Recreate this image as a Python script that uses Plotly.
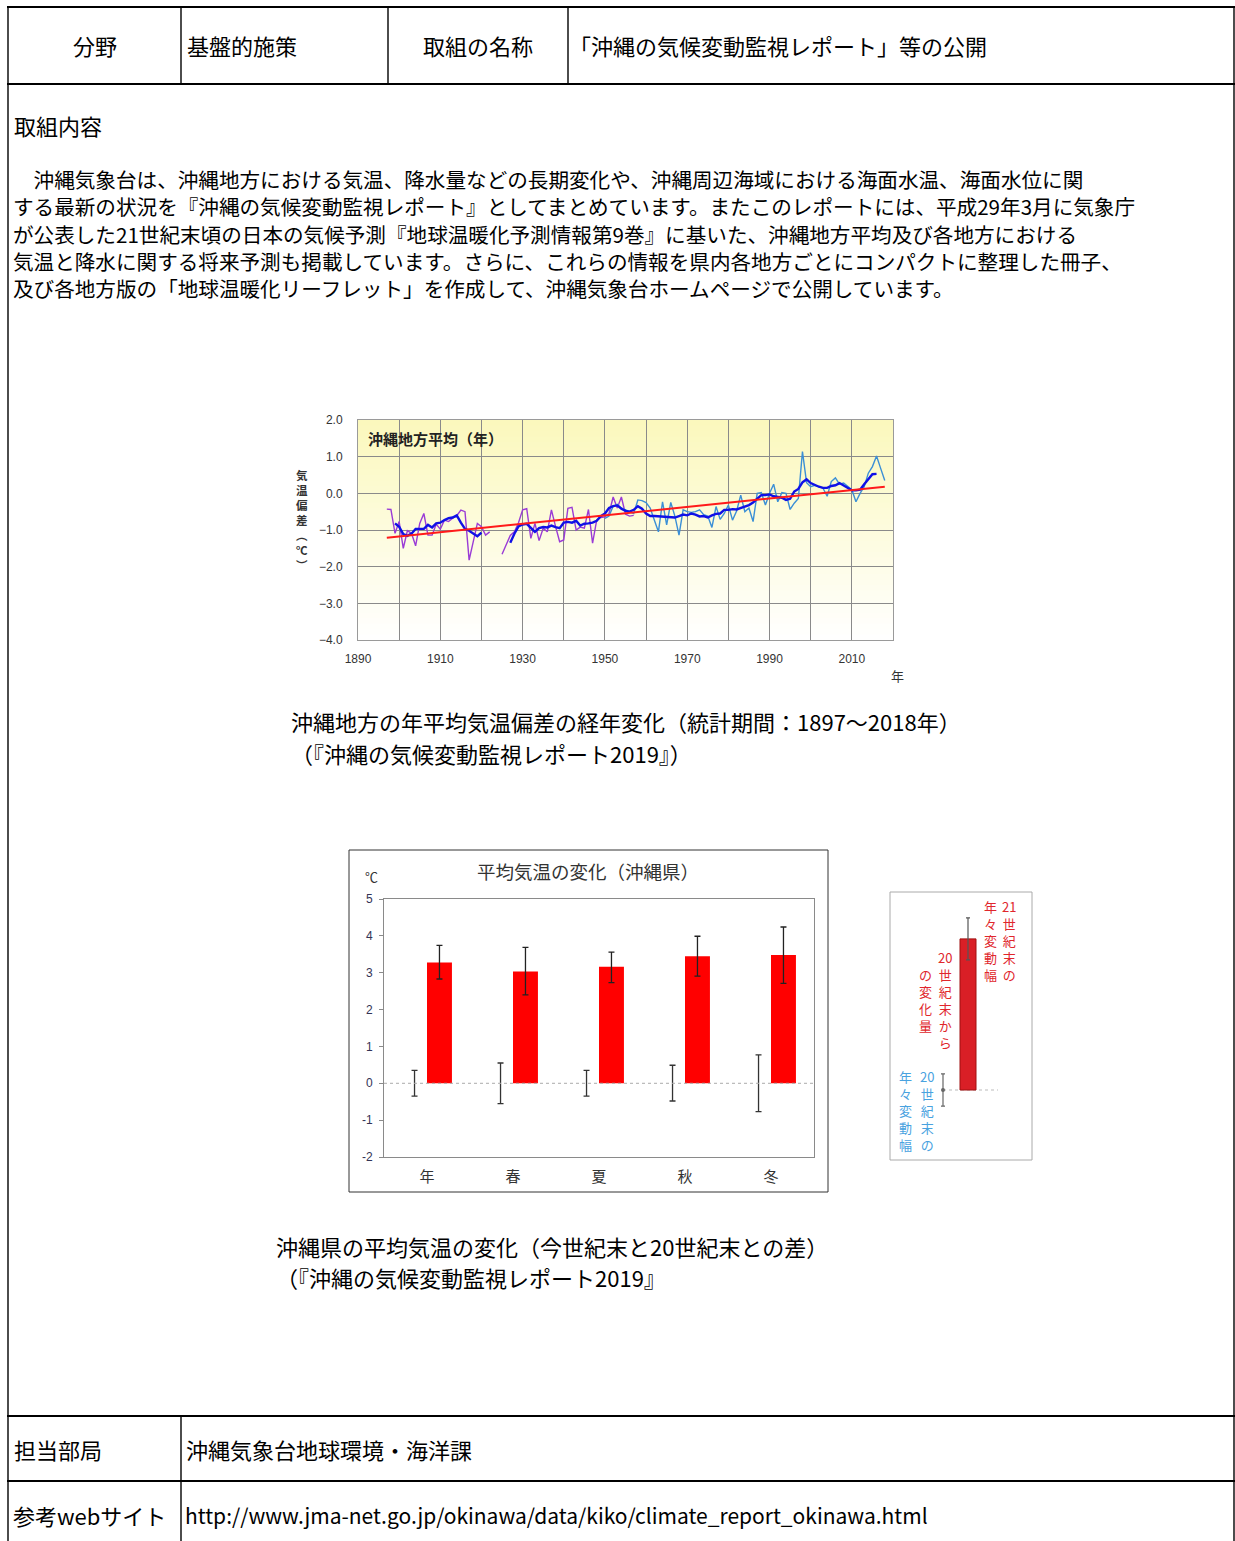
import plotly.graph_objects as go

W, H = 1235, 1541
JP = "Noto Sans CJK JP"
LAT = "Liberation Sans, Arial, sans-serif"

# ---------------- data: chart 1 (annual temperature anomaly, Okinawa) ----------------
years_a = list(range(1897, 1958))
purple_vals = [
    -0.43, -0.44, -1.09, -0.77, -1.50, -1.02, -1.09, -1.43, -0.82, -0.55,   # 1897-1906
    -1.14, -1.14, -0.84, -0.98, -0.73, -0.77, -0.68, -0.61, -0.46, -0.50,   # 1907-1916
    -1.82, -1.27, -0.82, -0.91, -1.14, -1.05, None, None, -1.66, -1.40,     # 1917-1926
    -1.15, -1.05, -0.80, -0.45, -0.42, -1.23, -0.82, -1.29, -0.95, -1.05,   # 1927-1936
    -0.45, -0.90, -1.32, -1.27, -0.41, -0.38, -1.00, -0.92, -0.95, -0.44,   # 1937-1946
    -1.36, -0.73, -0.66, -0.64, -0.55, -0.10, -0.40, -0.10, -0.57, -0.62,   # 1947-1956
    -0.60,                                                                   # 1957
]
years_b = list(range(1950, 2019))
lightblue_vals = [
    -0.68, -0.62, -0.35, -0.30, -0.40, -0.45, -0.52, -0.55, -0.18, -0.20,   # 1950-1959
    -0.25, -0.40, -0.73, -1.05, -0.23, -0.86, -0.25, -0.62, -1.14, -0.45,   # 1960-1969
    -0.50, -0.52, -0.50, -0.45, -0.58, -0.62, -0.93, -0.36, -0.71, -0.55,   # 1970-1979
    -0.32, -0.73, -0.48, -0.05, -0.50, -0.40, -0.77, 0.00, 0.02, -0.32,     # 1980-1989
    0.00, 0.25, -0.23, 0.02, 0.00, -0.44, -0.27, -0.14, 1.14, 0.29,         # 1990-1999
    0.18, 0.22, 0.18, 0.14, -0.08, 0.32, 0.42, 0.25, 0.28, 0.20,            # 2000-2009
    0.10, -0.23, 0.00, 0.18, 0.55, 0.73, 1.02, 0.68, 0.35,                  # 2010-2018
]
years_m = list(range(1899, 2017))
running_mean = [
    -0.82, -0.91, -1.11, -1.16, -1.10, -0.97, -0.97, -0.97, -0.86, -0.93,   # 1899-1908
    -0.82, -0.80, -0.73, -0.68, -0.66, -0.60, -0.80, -0.97, -1.02, -1.10,   # 1909-1918
    -1.17, -1.07, None, None, None, None, None, None, -1.35, -1.10,         # 1919-1928
    -0.90, -0.85, -0.83, -0.95, -1.05, -0.95, -0.92, -0.93, -0.88, -0.92,   # 1929-1938
    -0.95, -0.80, -0.78, -0.80, -0.75, -0.88, -0.83, -0.82, -0.80, -0.75,   # 1939-1948
    -0.62, -0.55, -0.40, -0.35, -0.33, -0.42, -0.48, -0.50, -0.45, -0.35,   # 1949-1958
    -0.42, -0.55, -0.62, -0.62, -0.63, -0.62, -0.65, -0.65, -0.66, -0.62,   # 1959-1968
    -0.58, -0.60, -0.55, -0.58, -0.63, -0.62, -0.66, -0.60, -0.56, -0.55,   # 1969-1978
    -0.45, -0.45, -0.43, -0.44, -0.40, -0.38, -0.32, -0.25, -0.15, -0.05,   # 1979-1988
    -0.05, -0.03, -0.08, -0.10, -0.12, -0.18, -0.15, 0.05, 0.12, 0.30,      # 1989-1998
    0.38, 0.28, 0.22, 0.18, 0.15, 0.15, 0.20, 0.22, 0.28, 0.22,             # 1999-2008
    0.14, 0.08, 0.08, 0.10, 0.25, 0.40, 0.52, 0.53,                         # 2009-2016
]
trend_years = [1897, 2018]
trend_vals = [-1.21, 0.18]
year_ticks = [1890, 1900, 1910, 1920, 1930, 1940, 1950, 1960, 1970, 1980, 1990, 2000, 2010]
year_ticklabels = ["1890", "", "1910", "", "1930", "", "1950", "", "1970", "", "1990", "", "2010"]

# ---------------- data: chart 2 (projected change, Okinawa Pref.) ----------------
seasons = ["年", "春", "夏", "秋", "冬"]
change_21c = [3.28, 3.03, 3.16, 3.45, 3.48]
err21_plus = [0.46, 0.66, 0.40, 0.54, 0.76]
err21_minus = [0.45, 0.63, 0.43, 0.54, 0.77]
base_20c = [0, 0, 0, 0, 0]
err20_plus = [0.35, 0.55, 0.35, 0.49, 0.77]
err20_minus = [0.35, 0.55, 0.35, 0.48, 0.77]
c2_ticks = [-2, -1, 0, 1, 2, 3, 4, 5]
c2_ticklabels = ["-2", "-1", "0", "1", "2", "3", "4", "5"]

# legend illustration values
key_bar = [4.03]
key_bar_err = [0.56]
key_base_err = [0.43]


def X(px):
    return px / W


def Y(py):
    return 1 - py / H


fig = go.Figure()

# chart 1 traces
fig.add_trace(go.Scatter(x=years_a, y=purple_vals, mode="lines", line=dict(color="#9a3bd6", width=1.4),
                         connectgaps=False, xaxis="x", yaxis="y", hoverinfo="skip"))
fig.add_trace(go.Scatter(x=years_b, y=lightblue_vals, mode="lines", line=dict(color="#3b8fd6", width=1.4),
                         xaxis="x", yaxis="y", hoverinfo="skip"))
fig.add_trace(go.Scatter(x=years_m, y=running_mean, mode="lines", line=dict(color="#1010e6", width=2.4),
                         connectgaps=False, xaxis="x", yaxis="y", hoverinfo="skip"))
fig.add_trace(go.Scatter(x=trend_years, y=trend_vals, mode="lines", line=dict(color="#ff1a1a", width=2),
                         xaxis="x", yaxis="y", hoverinfo="skip"))

# chart 2 traces
fig.add_trace(go.Bar(x=seasons, y=base_20c, marker=dict(color="rgba(0,0,0,0)", line=dict(width=0)),
                     error_y=dict(type="data", array=err20_plus, arrayminus=err20_minus, color="#333333",
                                  thickness=1.3, width=3),
                     offsetgroup="a", xaxis="x2", yaxis="y2", hoverinfo="skip"))
fig.add_trace(go.Bar(x=seasons, y=change_21c, marker=dict(color="#ff0000", line=dict(width=0)),
                     error_y=dict(type="data", array=err21_plus, arrayminus=err21_minus, color="#222222",
                                  thickness=1.3, width=3),
                     offsetgroup="b", xaxis="x2", yaxis="y2", hoverinfo="skip"))

# legend illustration (chart 3)
fig.add_trace(go.Bar(x=[1], y=key_bar, width=0.64, marker=dict(color="#d91f26", line=dict(color="#a01010", width=1)),
                     error_y=dict(type="data", array=key_bar_err, color="#555555", thickness=1.2, width=2),
                     xaxis="x3", yaxis="y3", hoverinfo="skip"))
fig.add_trace(go.Scatter(x=[0], y=[0], mode="markers", marker=dict(size=4, color="#666666"),
                         error_y=dict(type="data", array=key_base_err, color="#666666", thickness=1.2, width=2),
                         xaxis="x3", yaxis="y3", hoverinfo="skip"))

shapes = []

# gradient background of chart 1
NB = 40
for i in range(NB):
    t = (i + 0.5) / NB
    r = round(255 - (255 - 251) * t)
    g = round(255 - (255 - 248) * t)
    b = round(255 - (255 - 188) * t)
    shapes.append(dict(type="rect", xref="x domain", yref="y domain", x0=0, x1=1,
                       y0=i / NB, y1=(i + 1) / NB + 0.002, line=dict(width=0),
                       fillcolor=f"rgb({r},{g},{b})", layer="below"))

# zero reference line in chart 2
shapes.append(dict(type="line", xref="x2 domain", yref="y2", x0=0, x1=1, y0=0, y1=0,
                   line=dict(color="#aaaaaa", width=1, dash="dot"), layer="above"))
# baseline in legend illustration
shapes.append(dict(type="line", xref="x3", yref="y3", x0=0, x1=2.2, y0=0, y1=0,
                   line=dict(color="#bbbbbb", width=1, dash="dot"), layer="below"))

# frames
shapes.append(dict(type="rect", xref="paper", yref="paper", x0=X(349), x1=X(828), y0=Y(1192), y1=Y(850),
                   line=dict(color="#333333", width=1)))
shapes.append(dict(type="rect", xref="paper", yref="paper", x0=X(890), x1=X(1032), y0=Y(1160), y1=Y(892),
                   line=dict(color="#aaaaaa", width=1)))


# table lines
def hline(y, x0=7, x1=1235, w=2.2):
    shapes.append(dict(type="line", xref="paper", yref="paper", x0=X(x0), x1=X(x1), y0=Y(y), y1=Y(y),
                       line=dict(color="#000000", width=w)))


def vline(x, y0, y1, w=1.4):
    shapes.append(dict(type="line", xref="paper", yref="paper", x0=X(x), x1=X(x), y0=Y(y0), y1=Y(y1),
                       line=dict(color="#000000", width=w)))


hline(7)
hline(84)
hline(1416)
hline(1481)
vline(8, 7, 1541)
vline(1234, 7, 1541)
vline(181, 7, 84)
vline(388, 7, 84)
vline(568, 7, 84)
vline(181, 1416, 1541)

annotations = []


def ann(text, x, y, size, xanchor="left", color="#000000", family=JP, yanchor="middle", bold=False,
        align="center"):
    annotations.append(dict(text=f"<b>{text}</b>" if bold else text, x=X(x), y=Y(y), xref="paper", yref="paper",
                            xanchor=xanchor, yanchor=yanchor, showarrow=False, borderpad=0, align=align,
                            font=dict(size=size, color=color, family=family)))


def vcol(chars, x, ytop, size, color, bold=False):
    # a vertical column of text, one character per line
    ann("<br>".join(chars), x, ytop, size, xanchor="center", color=color, yanchor="top", bold=bold)


# header row
ann("分野", 95, 45, 22, xanchor="center")
ann("基盤的施策", 186, 45, 22)
ann("取組の名称", 478, 45, 22, xanchor="center")
ann("「沖縄の気候変動監視レポート」等の公開", 568, 45, 22)

ann("取組内容", 13, 125, 22)
para = [
    "　沖縄気象台は、沖縄地方における気温、降水量などの長期変化や、沖縄周辺海域における海面水温、海面水位に関",
    "する最新の状況を『沖縄の気候変動監視レポート』としてまとめています。またこのレポートには、平成29年3月に気象庁",
    "が公表した21世紀末頃の日本の気候予測『地球温暖化予測情報第9巻』に基いた、沖縄地方平均及び各地方における",
    "気温と降水に関する将来予測も掲載しています。さらに、これらの情報を県内各地方ごとにコンパクトに整理した冊子、",
    "及び各地方版の「地球温暖化リーフレット」を作成して、沖縄気象台ホームページで公開しています。",
]
for i, line in enumerate(para):
    ann(line, 12, 179 + i * 27.3, 20.6)

# chart 1 labels
ann("沖縄地方平均（年）", 367, 439, 15, bold=True, color="#222222")
vcol(["気", "温", "偏", "差", "︵", "℃", "︶"], 302, 466, 11.5, "#333333", bold=True)
ann("年", 897, 676, 13, xanchor="center", color="#333333")

ann("沖縄地方の年平均気温偏差の経年変化（統計期間：1897～2018年）", 290, 721, 22)
ann("（『沖縄の気候変動監視レポート2019』）", 290, 753, 22)

# chart 2 labels
ann("平均気温の変化（沖縄県）", 588, 871, 18.5, xanchor="center", color="#333333")
ann("℃", 371, 876, 13, xanchor="center", color="#333333")

ann("沖縄県の平均気温の変化（今世紀末と20世紀末との差）", 275, 1246, 22)
ann("（『沖縄の気候変動監視レポート2019』", 275, 1277, 22)

# legend illustration text
RED = "#e0262c"
BLUE = "#49a2df"
vcol(["21", "世", "紀", "末", "の"], 1009, 896, 13, RED)
vcol(["年", "々", "変", "動", "幅"], 990, 896, 13, RED)
vcol(["20", "世", "紀", "末", "か", "ら"], 945, 947, 13, RED)
vcol(["の", "変", "化", "量"], 925, 964, 13, RED)
vcol(["20", "世", "紀", "末", "の"], 927, 1066, 13, BLUE)
vcol(["年", "々", "変", "動", "幅"], 905, 1066, 13, BLUE)

# bottom rows
ann("担当部局", 13, 1449, 22)
ann("沖縄気象台地球環境・海洋課", 185, 1449, 22)
ann("参考webサイト", 12, 1515, 22)
ann("http://www.jma-net.go.jp/okinawa/data/kiko/climate_report_okinawa.html", 184, 1515, 21)

fig.update_layout(
    template="none",
    width=W, height=H, autosize=False,
    margin=dict(l=0, r=0, t=0, b=0, pad=0, autoexpand=False),
    paper_bgcolor="#ffffff", plot_bgcolor="rgba(0,0,0,0)",
    showlegend=False, barmode="group", bargap=0.42, bargroupgap=0,
    font=dict(family=JP, color="#000000"),
    shapes=shapes, annotations=annotations,
    xaxis=dict(domain=[X(358), X(893)], range=[1890, 2020], tickmode="array", tickvals=year_ticks,
               ticktext=year_ticklabels, showgrid=True, gridcolor="#8a8a8a", gridwidth=1,
               showline=True, mirror=True, linecolor="#9a9a9a", linewidth=1, zeroline=False,
               ticks="", ticklabelstandoff=8, tickfont=dict(family=LAT, size=12, color="#333333"),
               anchor="y", fixedrange=True, automargin=False),
    yaxis=dict(domain=[Y(640), Y(420)], range=[-4, 2], dtick=1, tick0=0, tickformat=".1f",
               showgrid=True, gridcolor="#8a8a8a", gridwidth=1, showline=True, mirror=True,
               linecolor="#9a9a9a", linewidth=1, zeroline=False, ticks="", ticklabelstandoff=12,
               tickfont=dict(family=LAT, size=12, color="#333333"), anchor="x", fixedrange=True,
               automargin=False),
    xaxis2=dict(domain=[X(384), X(814)], showgrid=False, showline=True, mirror=True, linecolor="#8a8a8a",
                linewidth=1, ticks="", ticklabelstandoff=6, tickfont=dict(family=JP, size=15, color="#333333"),
                anchor="y2", fixedrange=True, automargin=False),
    yaxis2=dict(domain=[Y(1157), Y(899)], range=[-2, 5], tickmode="array", tickvals=c2_ticks,
                ticktext=c2_ticklabels, showgrid=False, showline=True, mirror=True,
                linecolor="#8a8a8a", linewidth=1, zeroline=False, ticks="outside", ticklen=4,
                tickcolor="#8a8a8a", ticklabelstandoff=4,
                tickfont=dict(family=LAT, size=12, color="#333355"), anchor="x2", fixedrange=True,
                automargin=False),
    xaxis3=dict(domain=[X(930), X(1000)], range=[-0.52, 2.28], visible=False, anchor="y3", fixedrange=True),
    yaxis3=dict(domain=[Y(1110), Y(900)], range=[-0.533, 5.067], visible=False, anchor="x3", fixedrange=True),
)

fig.write_html("out.html", config={"displayModeBar": False},
               post_script="document.body.style.margin='0px';document.body.style.overflow='hidden';")
